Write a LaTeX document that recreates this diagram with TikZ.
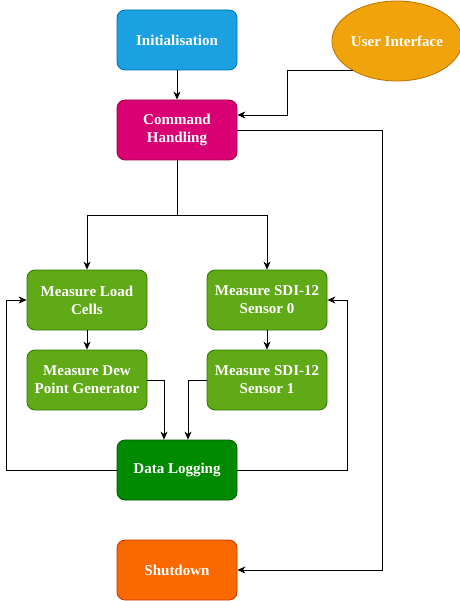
\documentclass[tikz,border=0pt]{standalone}
\usepackage{fontspec}
\setmainfont{Liberation Serif}
\usetikzlibrary{positioning,arrows.meta,shapes.geometric}

\definecolor{initfill}{HTML}{1BA1E2}
\definecolor{initline}{HTML}{006EAF}
\definecolor{cmdfill}{HTML}{D80073}
\definecolor{cmdline}{HTML}{A50040}
\definecolor{uifill}{HTML}{F0A30A}
\definecolor{uiline}{HTML}{BD7000}
\definecolor{measfill}{HTML}{60A917}
\definecolor{measline}{HTML}{2D7600}
\definecolor{logfill}{HTML}{008A00}
\definecolor{logline}{HTML}{005700}
\definecolor{shutfill}{HTML}{FA6800}
\definecolor{shutline}{HTML}{C73500}

\tikzset{
	block/.style={rectangle, rounded corners=8pt, minimum width=120pt, minimum height=60pt,
		inner sep=0pt, align=center, text=white, line width=0.8pt,
		font=\fontsize{15pt}{18pt}\selectfont\bfseries},
	meas/.style={block, fill=measfill, draw=measline}
}

\begin{document}
\begin{tikzpicture}[x=1pt, y=-1pt, node distance=80pt, on grid, line width=0.8pt,
	>={Stealth[length=8pt, width=7pt, inset=2.5pt]}]
	\useasboundingbox (0,0) rectangle (459,601);

	\node[block, fill=initfill, draw=initline] (init) at (177,40) {Initialisation};
	\node[block, fill=cmdfill, draw=cmdline] (cmd) [below=90pt of init] {Command\\Handling};
	\node[ellipse, fill=uifill, draw=uiline, minimum width=120pt, minimum height=80pt, inner sep=0pt,
		text=white, font=\fontsize{15pt}{18pt}\selectfont\bfseries] (ui) at (397,41) {User Interface};
	\node[meas] (load) at (87,300) {Measure Load\\Cells};
	\node[meas] (sdi0) [right=180pt of load] {Measure SDI-12\\Sensor 0};
	\node[meas] (dew) [below=of load] {Measure Dew\\Point Generator};
	\node[meas] (sdi1) [below=of sdi0] {Measure SDI-12\\Sensor 1};
	\node[block, fill=logfill, draw=logline] (log) at (177,470) {Data Logging};
	\node[block, fill=shutfill, draw=shutline] (shut) [below=100pt of log] {Shutdown};

	\draw[->] (init) -- (cmd);
	\draw[->] (ui.214) -| ([xshift=50pt, yshift=15pt]cmd.east) -- ([yshift=15pt]cmd.east);
	\draw[->] (cmd.east) -- ++(145,0) |- (shut.east);
	\draw (cmd.south) -- ++(0,55) coordinate (fork);
	\draw[->] (fork) -| (load.north);
	\draw[->] (fork) -| (sdi0.north);
	\draw[->] (load) -- (dew);
	\draw[->] (sdi0) -- (sdi1);
	\draw[->] (dew.east) -| ([xshift=-13pt]log.north);
	\draw[->] (sdi1.west) -| ([xshift=11pt]log.north);
	\draw[->] (log.west) -- ++(-110,0) |- (load.west);
	\draw[->] (log.east) -- ++(110,0) |- (sdi0.east);
\end{tikzpicture}
\end{document}
